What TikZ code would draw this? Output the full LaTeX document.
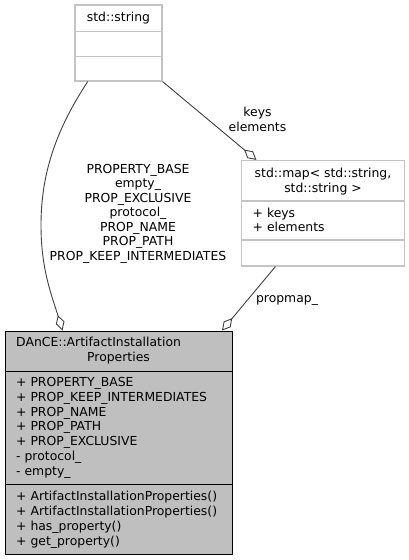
\documentclass[tikz,border=0pt]{standalone}
\usepackage{fontspec}
\setmainfont{DejaVu Sans}
\usetikzlibrary{arrows.meta,calc}
\definecolor{boxgray}{HTML}{C4C4C4}
\definecolor{maingray}{HTML}{BFBFBF}
\definecolor{edgegray}{HTML}{404040}
\begin{document}
\begin{tikzpicture}[x=1pt,y=-1pt,
  every node/.style={font=\fontsize{12.4}{14.8}\selectfont},
  txt/.style={inner sep=0pt, anchor=base west},
  ctxt/.style={inner sep=0pt, anchor=base},
  lightbox/.style={draw=boxgray, fill=white, line width=1.2pt, inner sep=0pt},
  mainbox/.style={draw=black, fill=maingray, line width=1pt, inner sep=0pt},
  lightdiv/.style={draw=boxgray, line width=1.2pt},
  maindiv/.style={draw=black, line width=1pt},
  edge/.style={draw=edgegray, line width=0.9pt, -{Diamond[open, length=16pt, width=9pt]}}
]
\useasboundingbox[fill=white] (0,0) rectangle (409,560);

% std::string
\node[lightbox, minimum width=87pt, minimum height=76pt] (ss) at (118.5,43) {};
\draw[lightdiv] (75,31.5) -- (162,31.5);
\draw[lightdiv] (75,56.5) -- (162,56.5);
\node[ctxt] (sst) at (118.5,21.5) {std::string};

% std::map
\node[lightbox, minimum width=163pt, minimum height=105.5pt] (map) at (323,213.25) {};
\draw[lightdiv] (241.5,201) -- (404.5,201);
\draw[lightdiv] (241.5,240) -- (404.5,240);
\node[ctxt] (mapt1) at (323,177.5) {std::map< std::string,};
\node[ctxt] (mapt2) at (323,192.3) {std::string >};
\node[txt] (mapm1) at (252.5,217) {+ keys};
\node[txt] (mapm2) at (252.5,231.8) {+ elements};

% main class
\node[mainbox, minimum width=227pt, minimum height=223pt] (main) at (118.5,442.5) {};
\draw[maindiv] (5,371) -- (232,371);
\draw[maindiv] (5,484) -- (232,484);
\node[txt] (mt1) at (16,346.8) {DAnCE::ArtifactInstallation};
\node[ctxt] (mt2) at (118.5,361.6) {Properties};
\node[txt] (a1) at (16,386.5) {+ PROPERTY\_BASE};
\node[txt] (a2) at (16,401.3) {+ PROP\_KEEP\_INTERMEDIATES};
\node[txt] (a3) at (16,416.1) {+ PROP\_NAME};
\node[txt] (a4) at (16,430.9) {+ PROP\_PATH};
\node[txt] (a5) at (16,445.7) {+ PROP\_EXCLUSIVE};
\node[txt] (a6) at (16,460.5) {- protocol\_};
\node[txt] (a7) at (16,475.3) {- empty\_};
\node[txt] (f1) at (16,500.6) {+ ArtifactInstallationProperties()};
\node[txt] (f2) at (16,515.4) {+ ArtifactInstallationProperties()};
\node[txt] (f3) at (16,530.2) {+ has\_property()};
\node[txt] (f4) at (16,545.0) {+ get\_property()};

% edges
\draw[edge] ([xshift=13.3pt]ss.south west) .. controls (62,121) and (41,165) .. (41,225)
  .. controls (41,270) and (52,296) .. ([xshift=58pt]main.north west);
\draw[edge] (ss.south east) -- ([xshift=15.5pt]map.north west);
\draw[edge] ([xshift=34.5pt]map.south west) -- ([xshift=217.5pt]main.north west);

% edge labels
\node[ctxt] (k1) at (257.5,116.5) {keys};
\node[ctxt] (k2) at (257.5,131.2) {elements};
\node[ctxt] (l1) at (138,173.3) {PROPERTY\_BASE};
\node[ctxt] (l2) at (138,187.8) {empty\_};
\node[ctxt] (l3) at (138,202.3) {PROP\_EXCLUSIVE};
\node[ctxt] (l4) at (138,216.8) {protocol\_};
\node[ctxt] (l5) at (138,231.3) {PROP\_NAME};
\node[ctxt] (l6) at (138,245.8) {PROP\_PATH};
\node[ctxt] (l7) at (138,260.3) {PROP\_KEEP\_INTERMEDIATES};
\node[ctxt] (pm) at (287,302.5) {propmap\_};
\end{tikzpicture}
\end{document}
